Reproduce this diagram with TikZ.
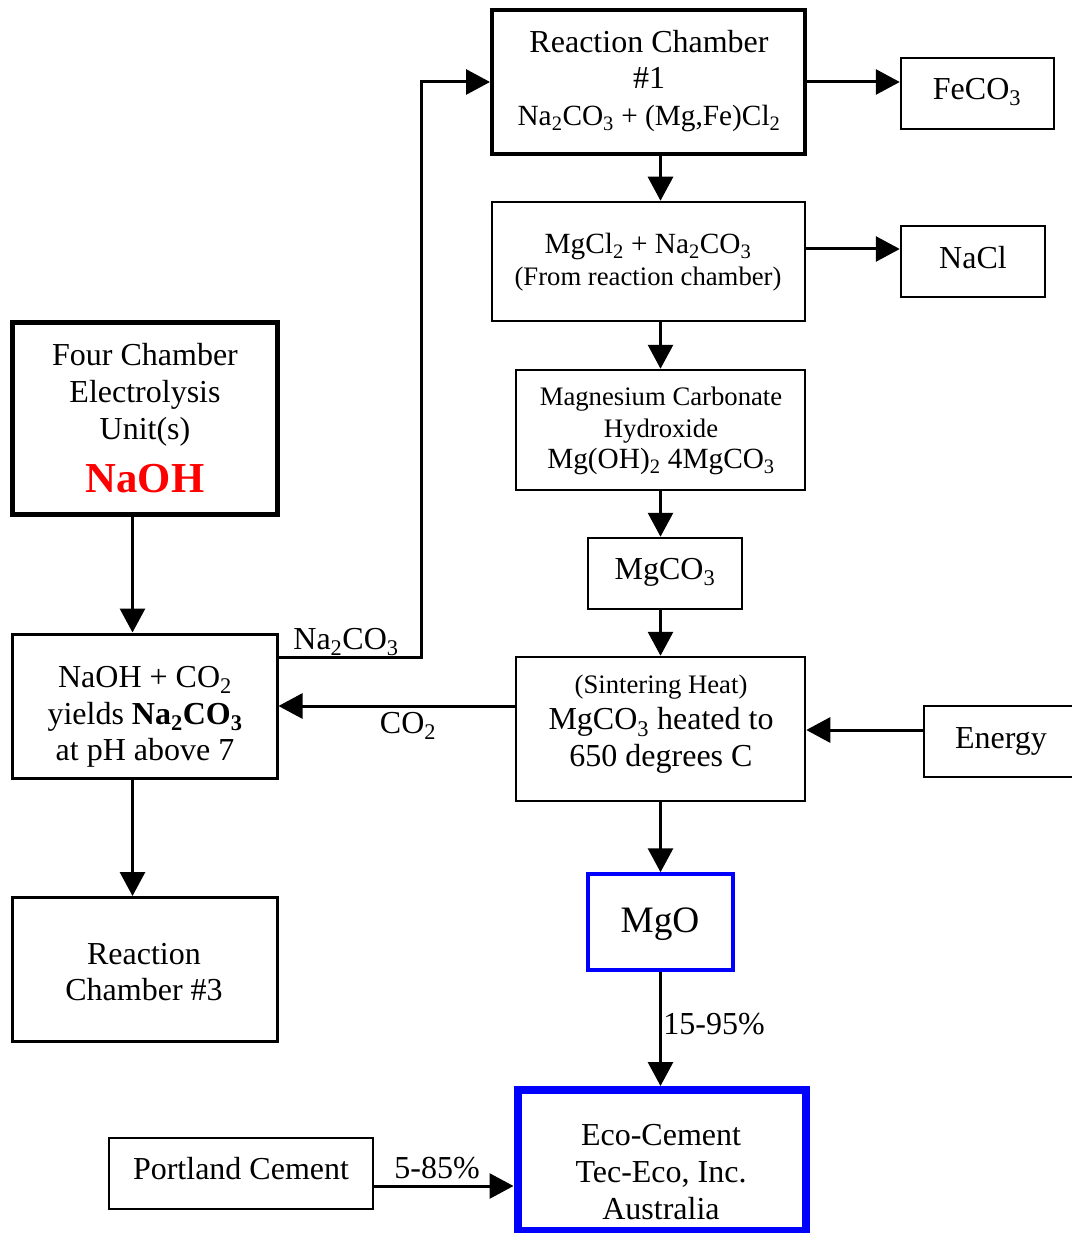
\documentclass[tikz,border=0pt]{standalone}
\usepackage{fontspec}
\setmainfont{Liberation Serif}
\usetikzlibrary{arrows.meta,calc}
\newcommand\fsA{\fontsize{32}{36.8}\selectfont}
\newcommand\fsB{\fontsize{29.3}{33.7}\selectfont}
\newcommand\fsC{\fontsize{26.7}{31.5}\selectfont}
\newcommand\fsD{\fontsize{37.3}{43}\selectfont}
\newcommand\fsE{\fontsize{42.7}{49}\selectfont\bfseries}
\newcommand\sbs[1]{\textsubscript{#1}}
\begin{document}
\begin{tikzpicture}[x=1pt,y=-1pt,
  box/.style={draw, rectangle, inner sep=0pt, line width=2.5pt},
  txt/.style={align=center, inner sep=0pt, font=\fsA},
  arr/.style={line width=3pt, -{Triangle[length=24pt,width=25pt]}}]
\useasboundingbox (0,0) rectangle (1071,1233);
% boxes
\node[box, line width=4pt, minimum width=313pt, minimum height=144pt] (rc1) at (648.5,82) {};
\node[box, minimum width=153pt, minimum height=71pt] (fe) at (977.5,93.5) {};
\node[box, minimum width=313pt, minimum height=119pt] (mgcl) at (648.5,261.5) {};
\node[box, minimum width=144pt, minimum height=71pt] (nacl) at (973,261.5) {};
\node[box, minimum width=289pt, minimum height=120pt] (mch) at (660.5,430) {};
\node[box, minimum width=154pt, minimum height=71pt] (mgco) at (665,573.5) {};
\node[box, minimum width=289pt, minimum height=144pt] (sint) at (660.5,729) {};
\node[box, minimum width=170pt, minimum height=71pt] (energy) at (1009,741.5) {};
\node[box, draw=blue, line width=3.5pt, minimum width=145pt, minimum height=96pt] (mgo) at (660.5,922) {};
\node[box, draw=blue, line width=8pt, minimum width=288.5pt, minimum height=141pt] (eco) at (661.75,1160.5) {};
\node[box, minimum width=264pt, minimum height=71pt] (pc) at (241,1173.5) {};
\node[box, line width=5pt, minimum width=265pt, minimum height=192pt] (four) at (144.5,418) {};
\node[box, line width=3pt, minimum width=265pt, minimum height=144pt] (nac) at (144.5,706) {};
\node[box, line width=3pt, minimum width=265pt, minimum height=144pt] (rc3) at (144.5,969.5) {};
% texts
\node[txt] (trc1) at (649,81) {Reaction Chamber\\\#1\\{\fsB Na\sbs{2}CO\sbs{3} + (Mg,Fe)Cl\sbs{2}}};
\node[txt] (tfe) at (977,92) {FeCO\sbs{3}};
\node[txt, font=\fsC] (tmgcl) at (648,262) {{\fsB MgCl\sbs{2} + Na\sbs{2}CO\sbs{3}}\\(From reaction chamber)};
\node[txt] (tnacl) at (973,258) {NaCl};
\node[txt, font=\fsC] (tmch) at (661,431) {Magnesium Carbonate\\Hydroxide\\{\fsB Mg(OH)\sbs{2} 4MgCO\sbs{3}}};
\node[txt] (tmgco) at (665,572) {MgCO\sbs{3}};
\node[txt] (tsint) at (661,724) {{\fsC (Sintering Heat)}\\MgCO\sbs{3} heated to\\650 degrees C};
\node[txt] (tenergy) at (1001,741) {Energy};
\node[txt, font=\fsD] (tmgo) at (660,924) {MgO};
\node[txt] (teco) at (661,1172) {Eco-Cement\\Tec-Eco, Inc.\\Australia};
\node[txt] (tpc) at (241,1169) {Portland Cement};
\node[txt] (tfour) at (145,418) {Four Chamber\\Electrolysis\\Unit(s)\\[16pt]{\fsE\color{red}NaOH}};
\node[txt] (tnac) at (145,717) {NaOH + CO\sbs{2}\\yields \textbf{Na\sbs{2}CO\sbs{3}}\\at pH above 7};
\node[txt] (trc3) at (144,972) {Reaction\\Chamber \#3};
% labels
\node[txt] (lna) at (346,642) {Na\sbs{2}CO\sbs{3}};
\node[txt] (lco) at (408,726) {CO\sbs{2}};
\node[txt] (l15) at (714,1024) {15-95\%};
\node[txt] (l5) at (437,1168) {5-85\%};
% connectors
\coordinate (bend) at (421,82);
\draw[arr] (rc1.east) -- (rc1.east -| fe.west);
\draw[arr] (rc1.south -| mch.north) -- (mgcl.north -| mch.north);
\draw[arr] ([yshift=12.5pt]mgcl.east) -- ([yshift=12.5pt]mgcl.east -| nacl.west);
\draw[arr] (mgcl.south -| mch.north) -- (mch.north);
\draw[arr] (mch.south) -- (mch.south |- mgco.north);
\draw[arr] (mgco.south -| sint.north) -- (sint.north);
\draw[arr] ([yshift=11.5pt]energy.west) -- ([yshift=11.5pt]energy.west -| sint.east);
\draw[arr] (sint.west |- nac.east) -- (nac.east);
\draw[arr] (sint.south) -- (mgo.north);
\draw[arr] (mgo.south) -- (mgo.south |- eco.north);
\draw[arr] ([yshift=-12.5pt]pc.east) -- ([yshift=-12.5pt]pc.east -| eco.west);
\draw[arr] ([yshift=49pt]nac.east) -| (bend) -- (rc1.west);
\draw[arr] ([xshift=-12pt]four.south) -- ([xshift=-12pt]four.south |- nac.north);
\draw[arr] ([xshift=-12pt]nac.south) -- ([xshift=-12pt]nac.south |- rc3.north);
\end{tikzpicture}
\end{document}
